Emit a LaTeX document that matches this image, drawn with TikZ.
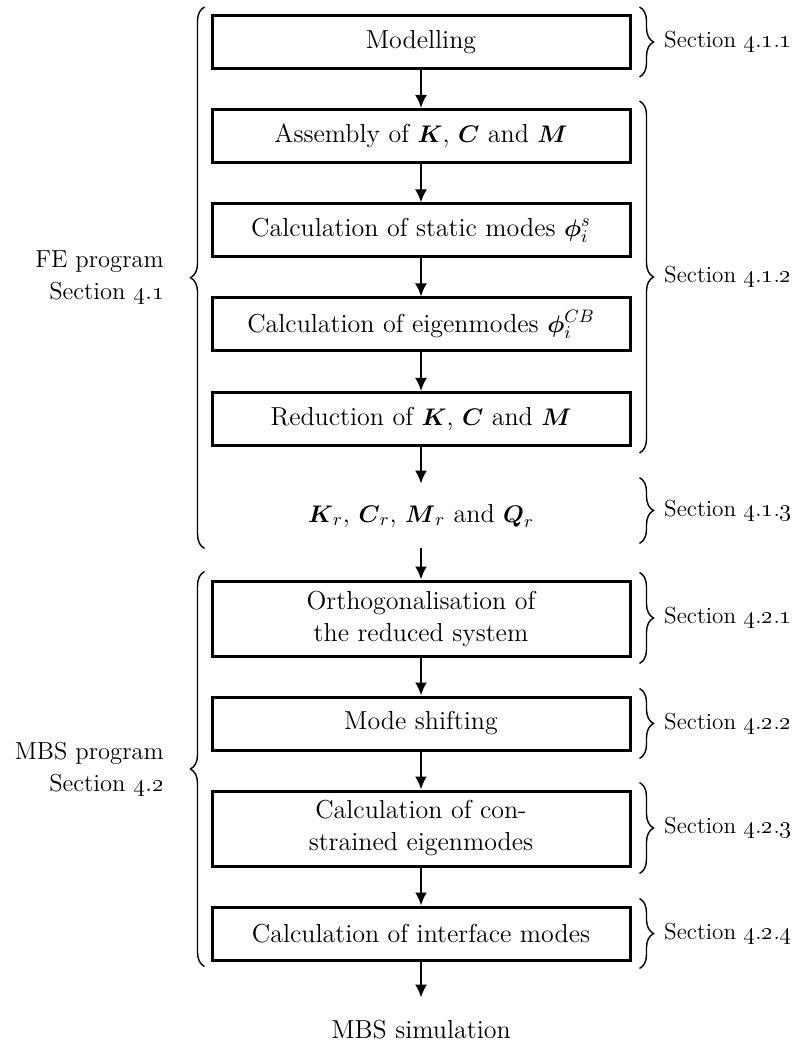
\documentclass[tikz,border=0pt]{standalone}
\usepackage{amsmath,amssymb}
\usetikzlibrary{arrows.meta,decorations.pathreplacing}
\newcommand\osn[1]{\oldstylenums{#1}}
\begin{document}
\begin{tikzpicture}[x=0.5pt,y=-0.5pt,
  font=\fontsize{13}{16}\selectfont,
  procbox/.style={draw,line width=1.5pt,minimum width=209pt,minimum height=26.5pt,align=center,inner sep=2pt},
  tallbox/.style={procbox,minimum height=37.5pt},
  plain/.style={minimum height=32pt,inner sep=0pt},
  flow/.style={-{Latex[length=6.5pt,width=6pt]},line width=1.1pt},
  brc/.style={decorate,decoration={brace,amplitude=7pt},line width=0.7pt},
  rlabel/.style={anchor=west,inner sep=0pt,xshift=12pt,font=\fontsize{11.6}{16}\selectfont},
  llabel/.style={anchor=east,inner sep=0pt,xshift=-20pt,align=right,font=\fontsize{12.3}{16}\selectfont}]
\useasboundingbox (0,0) rectangle (800,1042);

\node[procbox] (m1) at (421,42) {Modelling};
\node[procbox] (m2) at (421,136) {Assembly of $\boldsymbol{K}$, $\boldsymbol{C}$ and $\boldsymbol{M}$};
\node[procbox] (m3) at (421,230.5) {Calculation of static modes $\boldsymbol{\phi}_i^{s}$};
\node[procbox] (m4) at (421,324.5) {Calculation of eigenmodes $\boldsymbol{\phi}_i^{CB}$};
\node[procbox] (m5) at (421,419) {Reduction of $\boldsymbol{K}$, $\boldsymbol{C}$ and $\boldsymbol{M}$};
\node[plain] (kr) at (421,516) {$\boldsymbol{K}_r$, $\boldsymbol{C}_r$, $\boldsymbol{M}_r$ and $\boldsymbol{Q}_r$};
\node[tallbox] (o1) at (421,618.5) {Orthogonalisation of\\the reduced system};
\node[procbox] (o2) at (421,723.5) {Mode shifting};
\node[tallbox] (o3) at (421,828.5) {Calculation of con-\\strained eigenmodes};
\node[procbox] (o4) at (421,933.5) {Calculation of interface modes};
\node[plain] (mbs) at (421,1030) {MBS simulation};

\draw[flow] (m1) -- (m2);
\draw[flow] (m2) -- (m3);
\draw[flow] (m3) -- (m4);
\draw[flow] (m4) -- (m5);
\draw[flow] (m5) -- (kr);
\draw[flow] (kr) -- (o1);
\draw[flow] (o1) -- (o2);
\draw[flow] (o2) -- (o3);
\draw[flow] (o3) -- (o4);
\draw[flow] (o4) -- (mbs);

% right braces
\draw[brc] ([xshift=4pt,yshift=3.5pt]m1.north east) -- node[rlabel,midway] {Section \osn{4}.\osn{1}.\osn{1}} ([xshift=4pt,yshift=-3.5pt]m1.south east);
\draw[brc] ([xshift=4pt,yshift=3.5pt]m2.north east) -- node[rlabel,midway] {Section \osn{4}.\osn{1}.\osn{2}} ([xshift=4pt,yshift=-3pt]m5.south east);
\draw[brc] ([xshift=4pt,yshift=3pt]m1.east |- kr.north) -- node[rlabel,midway] {Section \osn{4}.\osn{1}.\osn{3}} ([xshift=4pt,yshift=2.5pt]m1.east |- kr.south);
\draw[brc] ([xshift=4pt,yshift=3.5pt]o1.north east) -- node[rlabel,midway] {Section \osn{4}.\osn{2}.\osn{1}} ([xshift=4pt,yshift=-3pt]o1.south east);
\draw[brc] ([xshift=4pt,yshift=3.5pt]o2.north east) -- node[rlabel,midway] {Section \osn{4}.\osn{2}.\osn{2}} ([xshift=4pt,yshift=-3.5pt]o2.south east);
\draw[brc] ([xshift=4pt,yshift=3.5pt]o3.north east) -- node[rlabel,midway] {Section \osn{4}.\osn{2}.\osn{3}} ([xshift=4pt,yshift=-3pt]o3.south east);
\draw[brc] ([xshift=4pt,yshift=3.5pt]o4.north east) -- node[rlabel,midway] {Section \osn{4}.\osn{2}.\osn{4}} ([xshift=4pt,yshift=-3.5pt]o4.south east);

% left braces
\draw[brc] ([xshift=-3pt]m1.west |- kr.south) -- node[llabel,midway] {FE program\\Section \osn{4}.\osn{1}} ([xshift=-3pt,yshift=3.5pt]m1.north west);
\draw[brc] ([xshift=-3pt,yshift=-2.5pt]o4.south west) -- node[llabel,midway] {MBS program\\Section \osn{4}.\osn{2}} ([xshift=-3pt,yshift=4pt]o1.north west);
\end{tikzpicture}
\end{document}
